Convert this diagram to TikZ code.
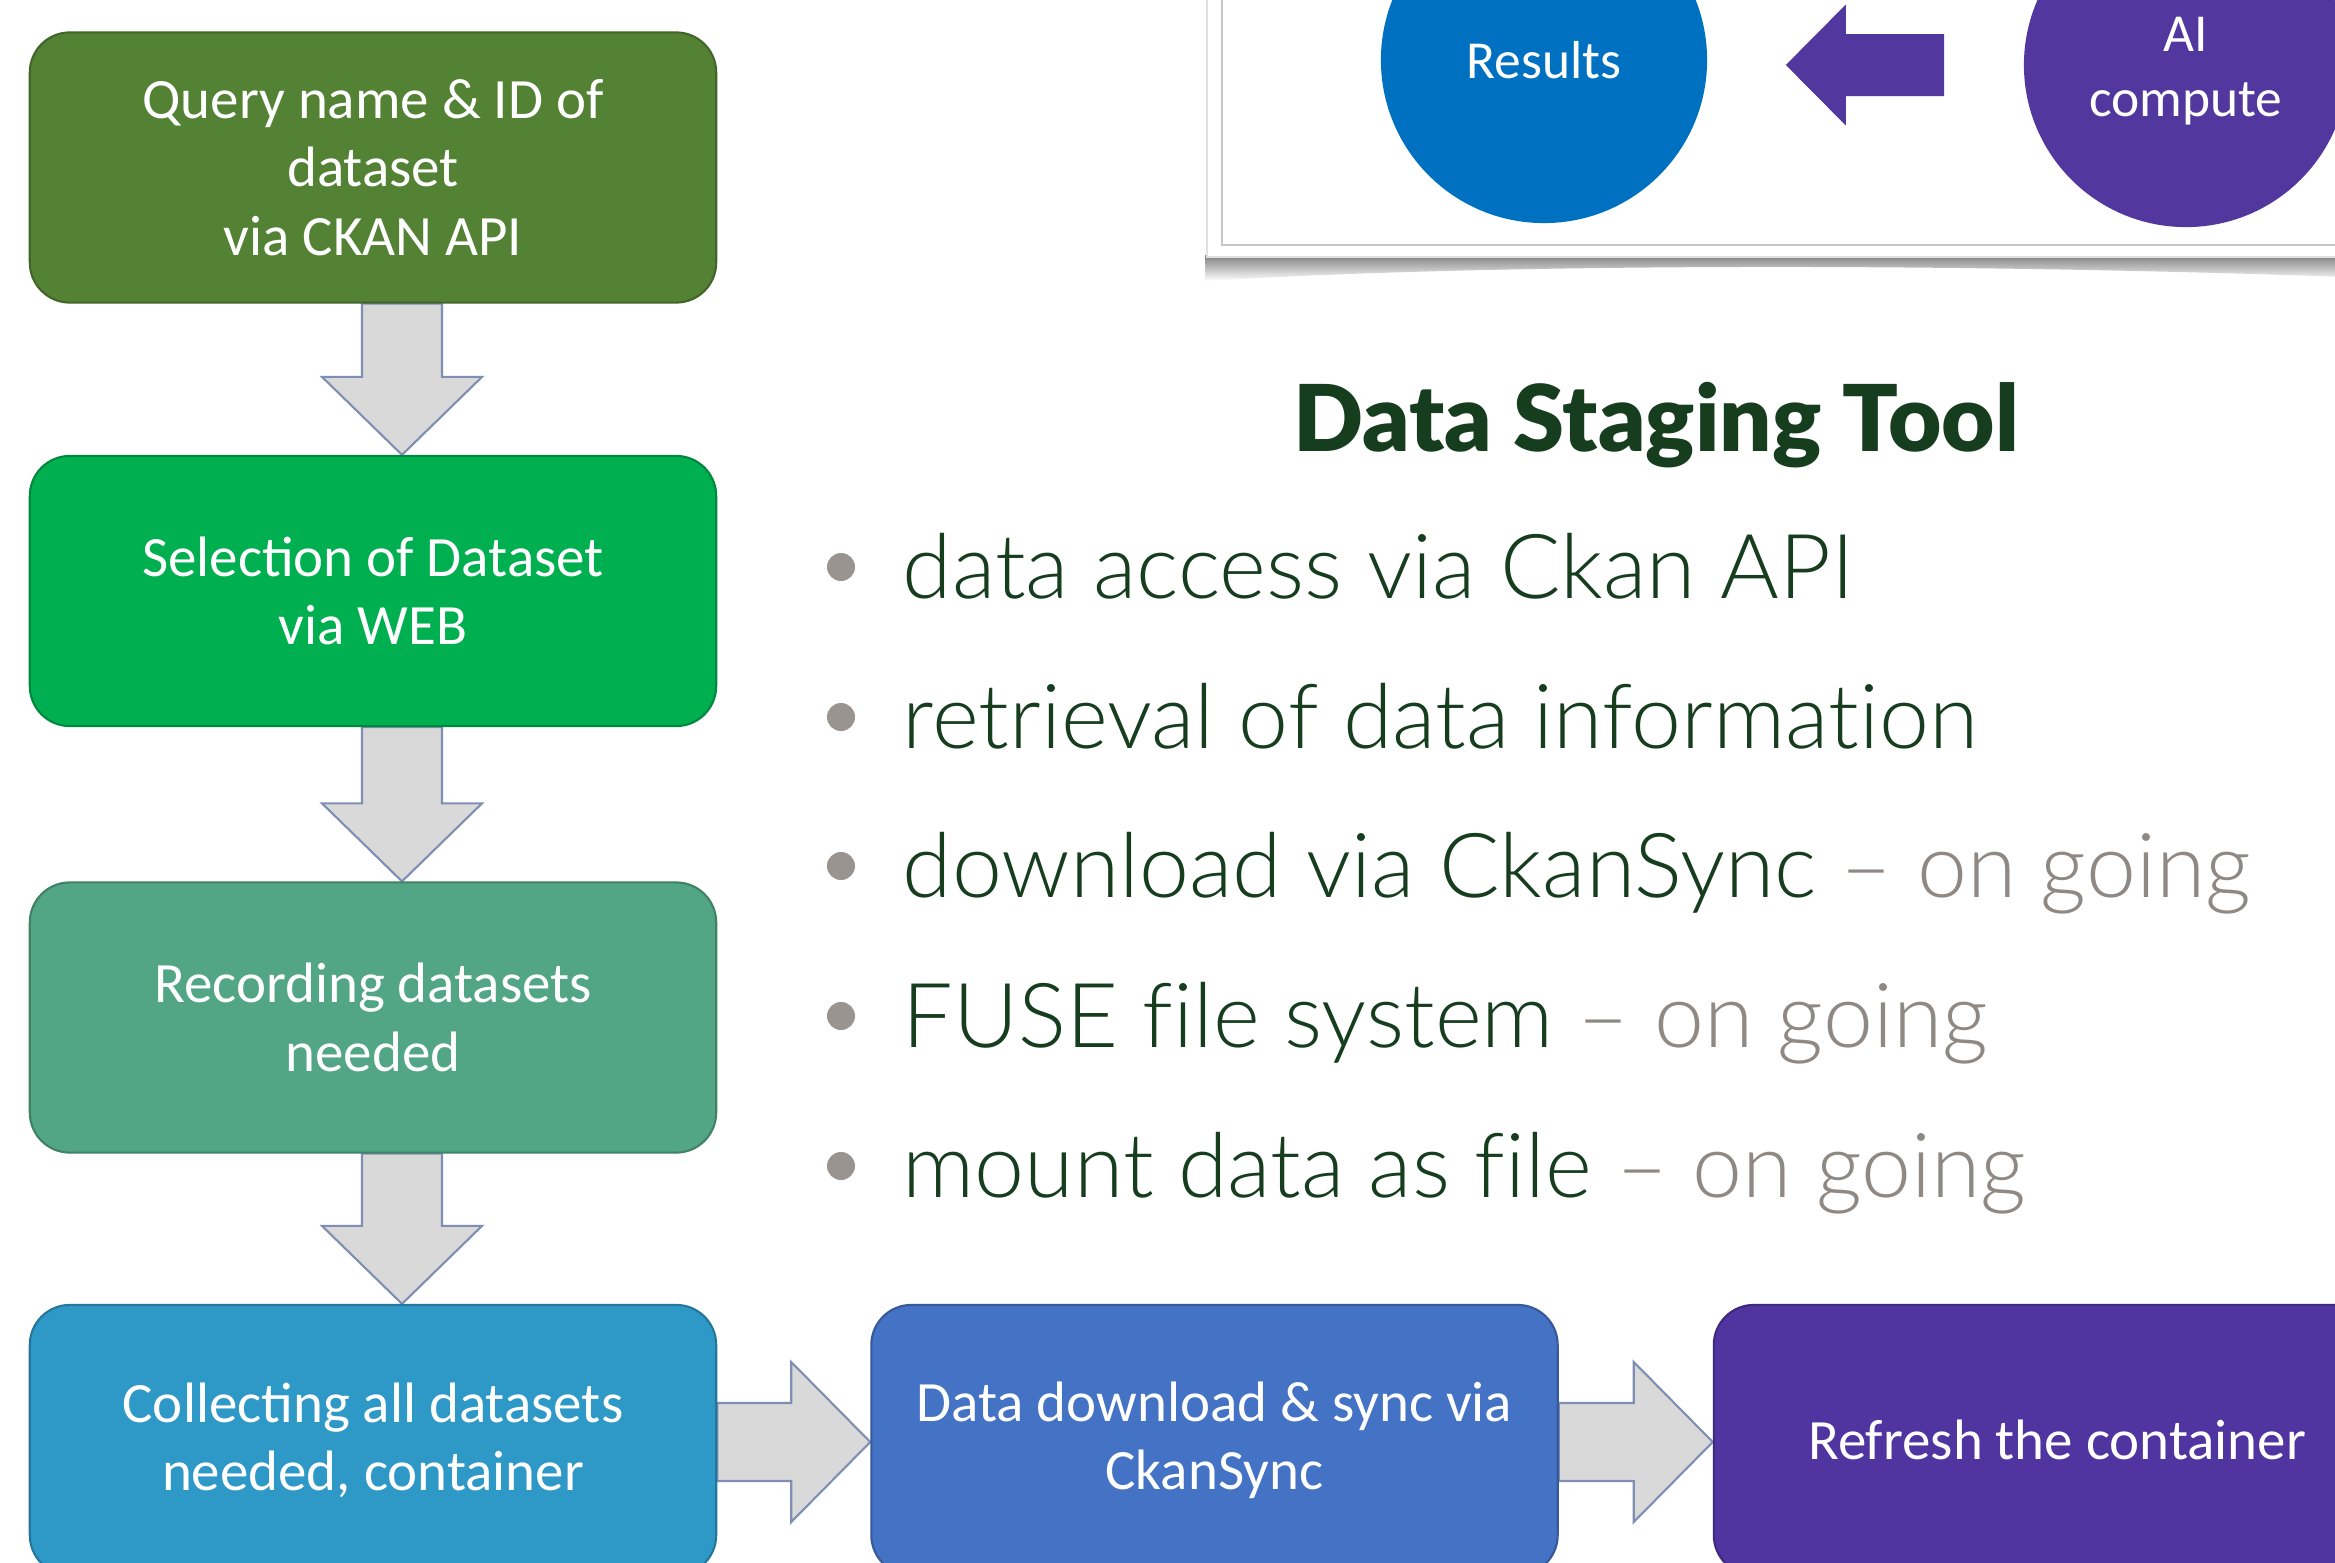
\documentclass[tikz,border=0pt]{standalone}
\usepackage{fontspec}
\usetikzlibrary{calc}
\newfontfamily\boxfont{Carlito}
\newfontfamily\latoblack[Ligatures=NoCommon]{Lato Black}
\newfontfamily\latolight[Ligatures=NoCommon]{Lato Light}
\definecolor{cA}{HTML}{548235}
\definecolor{cB}{HTML}{00B050}
\definecolor{cC}{HTML}{52A585}
\definecolor{cD}{HTML}{2E98C7}
\definecolor{cE}{HTML}{4472C4}
\definecolor{cF}{HTML}{5035A0}
\definecolor{resblue}{HTML}{0070C0}
\definecolor{aipurple}{HTML}{51379E}
\definecolor{arrfill}{HTML}{D9D9D9}
\definecolor{arrline}{HTML}{7F8FB3}
\definecolor{dgreen}{HTML}{173D1F}
\definecolor{lgray}{HTML}{8E8984}
\definecolor{dotgray}{HTML}{99948F}
\pgfdeclarelayer{background}
\pgfsetlayers{background,main}
\newcommand\blockdown[2]{%
  \path ([xshift=0.29cm]#1.south) coordinate (bds) ([xshift=0.29cm]#2.north) coordinate (bde);
  \draw[blockarrow] ($(bds)+(-40,0)$) -- ($(bde)+(-40,-78)$) -- ($(bde)+(-80,-78)$) -- (bde)
    -- ($(bde)+(80,-78)$) -- ($(bde)+(40,-78)$) -- ($(bds)+(40,0)$) -- cycle;}
\newcommand\blockright[2]{%
  \path ([yshift=-0.02cm]#1.east) coordinate (brs) ([yshift=-0.02cm]#2.west) coordinate (bre);
  \draw[blockarrow] ($(brs)+(0,-39)$) -- ($(bre)+(-79,-39)$) -- ($(bre)+(-79,-80)$) -- (bre)
    -- ($(bre)+(-79,80)$) -- ($(bre)+(-79,39)$) -- ($(brs)+(0,39)$) -- cycle;}
\begin{document}
\begin{tikzpicture}[x=0.01cm,y=-0.01cm,
  flowbox/.style={rectangle, rounded corners=0.4cm, minimum width=6.86cm, minimum height=2.70cm,
    inner sep=0pt, text=white, align=center,
    font=\boxfont\fontsize{16.2}{19.4}\selectfont, draw=#1!78!black, fill=#1, line width=0.6pt},
  blockarrow/.style={fill=arrfill, draw=arrline, line width=0.6pt, line join=miter},
  roundnode/.style={circle, minimum size=#1, inner sep=0pt},
  circlabel/.style={text=white, align=center, inner sep=0pt,
    font=\boxfont\fontsize{15.2}{18.5}\selectfont},
  bullettext/.style={anchor=base west, inner sep=0pt, text=dgreen,
    font=\latolight\fontsize{25.5}{31}\selectfont},
  dot/.style={circle, fill=dotgray, minimum size=0.28cm, inner sep=0pt}]
\useasboundingbox (0,0) rectangle (2335,1563);
\clip (0,0) rectangle (2335,1563);
\begin{pgfonlayer}{background}
\fill[white] (0,0) rectangle (2335,1563);
\end{pgfonlayer}

% framed picture at top right
\shade[top color=black!50, bottom color=white]
  (1205,255) -- (2345,255) -- (2345,277) .. controls (1950,263) and (1500,263) .. (1205,281) -- cycle;
\filldraw[fill=white, draw=black!12, line width=0.5pt] (1207,-30) rectangle (2360,257);
\draw[black!22, line width=0.7pt] (1222,-30) rectangle (2360,245);

\node[roundnode=3.26cm, fill=resblue, label={[circlabel]center:Results}] (res) at (1544,60) {};
\node[roundnode=3.24cm, fill=aipurple, label={[circlabel, yshift=-0.06cm]center:{AI\\compute}}] (ai) at (2186,65) {};
\path ([xshift=0.78cm]res.east) coordinate (ptx) ([xshift=-0.79cm]ai.west) coordinate (pex);
\path (ptx |- ai.center) coordinate (pt) (pex |- ai.center) coordinate (pe);
\fill[aipurple] (pt) -- ($(pt)+(60,-60.5)$) -- ($(pt)+(60,-31)$) -- ($(pe)+(0,-31)$)
  -- ($(pe)+(0,31)$) -- ($(pt)+(60,31)$) -- ($(pt)+(60,60.5)$) -- cycle;

% title and bullets
\node[anchor=base, inner sep=0pt, text=dgreen, font=\latoblack\fontsize{26.2}{30}\selectfont]
  (title) at (1656,451) {Data Staging Tool};
\node[dot] (d1) at (841,567) {};
\node[dot] (d2) at (841,717) {};
\node[dot] (d3) at (841,866) {};
\node[dot] (d4) at (841,1016) {};
\node[dot] (d5) at (841,1166) {};
\node[bullettext] (b1) at (902,598) {data access via Ckan API};
\node[bullettext] (b2) at (902,748) {retrieval of data information};
\node[bullettext] (b3) at (902,897) {download via CkanSync \textcolor{lgray}{– on going}};
\node[bullettext] (b4) at (902,1047) {FUSE file system \textcolor{lgray}{– on going}};
\node[bullettext] (b5) at (902,1197) {mount data as file \textcolor{lgray}{– on going}};

% flow boxes
\node[flowbox=cA] (q) at (373,167.5) {Query name \& ID of\\dataset\\via CKAN API};
\node[flowbox=cB] (s) at (373,591) {Selection of Dataset\\via WEB};
\node[flowbox=cC] (r) at (373,1017.5) {Recording datasets\\needed};
\node[flowbox=cD] (c) at (373,1440) {Collecting all datasets\\needed, container};
\node[flowbox=cE] (d) at (1214.5,1440) {Data download \& sync via\\CkanSync};
\node[flowbox=cF] (f) at (2057,1440) {Refresh the container};

\begin{pgfonlayer}{background}
\blockdown{q}{s}
\blockdown{s}{r}
\blockdown{r}{c}
\blockright{c}{d}
\blockright{d}{f}
\end{pgfonlayer}
\end{tikzpicture}
\end{document}
